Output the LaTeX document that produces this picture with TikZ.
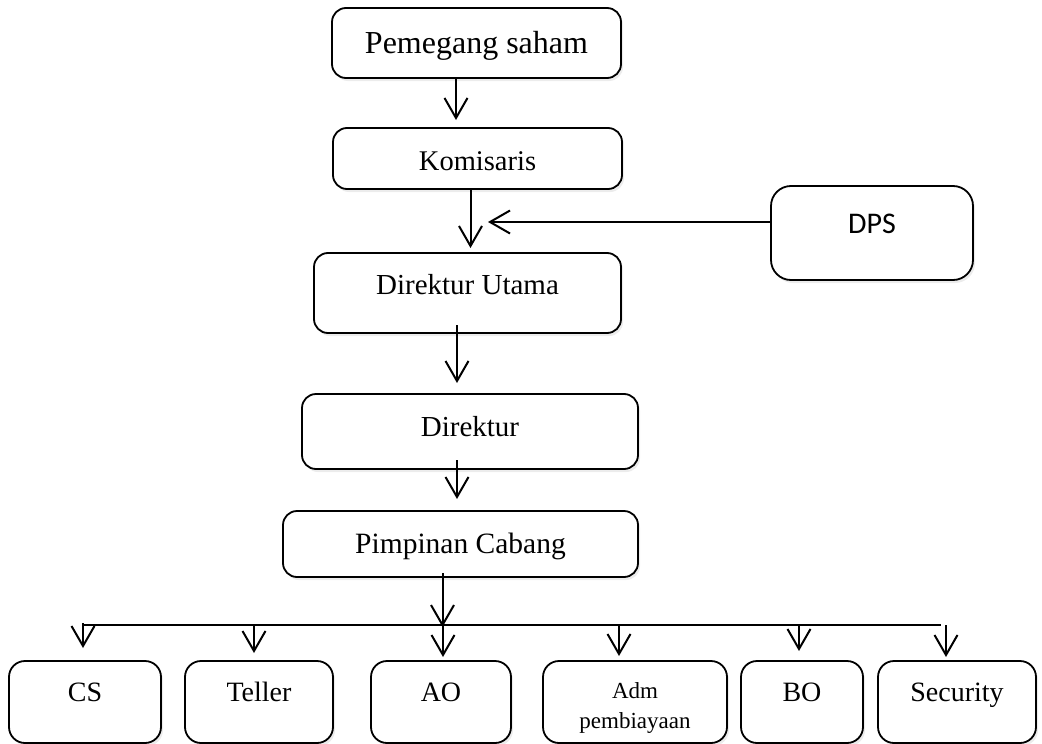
\documentclass[tikz,border=0pt]{standalone}
\usepackage{fontspec}
\setmainfont{Liberation Serif}
\newfontfamily\dpsfont{Carlito}
\usetikzlibrary{arrows.meta,shadows}

\tikzset{
  box/.style={draw, line width=1.8pt, rounded corners=14pt, fill=white,
    inner sep=0pt, outer sep=0pt, align=center,
    drop shadow={shadow xshift=2pt, shadow yshift=-3pt, opacity=0.15}},
  unit/.style={box, rounded corners=16pt, minimum height=82pt,
    font=\fontsize{28}{28}\selectfont, text height=18.3pt, text depth=20pt},
  arr/.style={line width=2pt, -{Straight Barb[length=20pt,width=23pt,line width=2pt]}},
  fs/.style={font=\fontsize{#1}{#1}\selectfont},
}

\begin{document}
\begin{tikzpicture}[x=1pt,y=-1pt]
  \useasboundingbox (0,0) rectangle (1042,744);

  % management chain
  \node[box, fs=32, minimum width=289pt, minimum height=70pt,
        text height=21pt, text depth=1pt] (pem) at (476.5,43) {Pemegang saham};
  \node[box, fs=28.5, minimum width=289pt, minimum height=61pt,
        text height=24.5pt, text depth=0pt] (kom) at (477.5,158.5) {Komisaris};
  \node[box, rounded corners=20pt, minimum width=202pt, minimum height=94pt,
        font=\dpsfont\fontsize{30}{30}\selectfont,
        text height=19pt, text depth=18pt] (dps) at (872,233) {DPS};
  \node[box, fs=29, minimum width=307pt, minimum height=80pt,
        text height=19pt, text depth=17pt] (dirut) at (467.5,293) {Direktur Utama};
  \node[box, fs=29, minimum width=336pt, minimum height=75pt,
        text height=19pt, text depth=9pt] (dir) at (470,431.5) {Direktur};
  \node[box, fs=29.5, minimum width=355pt, minimum height=66pt,
        text height=19.3pt, text depth=0pt] (pim) at (460.5,544) {Pimpinan Cabang};

  % branch units
  \node[unit, minimum width=152pt] (cs)  at (85,702)  {CS};
  \node[unit, minimum width=148pt] (tel) at (259,702) {Teller};
  \node[unit, minimum width=140pt] (ao)  at (441,702) {AO};
  \node[unit, minimum width=184pt, font=\fontsize{23}{30}\selectfont,
        text height=52pt, text depth=0pt] (adm) at (635,702) {Adm\\pembiayaan};
  \node[unit, minimum width=122pt] (bo)  at (802,702) {BO};
  \node[unit, minimum width=158pt] (sec) at (957,702) {Security};

  % vertical chain arrows
  \draw[arr, shorten >=8pt] ([xshift=-20.5pt]pem.south) -- ([xshift=-20.5pt]pem.south |- kom.north);
  \draw[arr, shorten >=5pt] ([xshift=-7pt]kom.south) -- ([xshift=-7pt]kom.south |- dirut.north);
  \coordinate (dpsin) at (488,222);
  \draw[arr] (dps.west |- dpsin) -- (dpsin);
  \draw[arr, shorten <=-8pt, shorten >=11pt] ([xshift=-10.5pt]dirut.south) -- ([xshift=-10.5pt]dirut.south |- dir.north);
  \draw[arr, shorten <=-9pt, shorten >=12pt] ([xshift=-13pt]dir.south) -- ([xshift=-13pt]dir.south |- pim.north);

  % distribution bus
  \coordinate (busL) at (82,625);
  \coordinate (busR) at (941,625);
  \draw[arr, shorten <=-4pt, shorten >=-2pt] ([xshift=-18pt]pim.south) -- ([xshift=-18pt]pim.south |- busL);
  \draw[line width=2pt] (busL) -- (busR);

  \coordinate (bcs)  at (83,625);
  \coordinate (btel) at (254,625);
  \coordinate (bao)  at (443,625);
  \coordinate (badm) at (619,625);
  \coordinate (bbo)  at (799,625);
  \coordinate (bsec) at (946,625);
  \draw[arr, shorten <=-2pt, shorten >=13pt] (bcs) -- (bcs |- cs.north);
  \draw[arr, shorten >=8pt]  (btel) -- (btel |- tel.north);
  \draw[arr, shorten >=4pt]  (bao)  -- (bao |- ao.north);
  \draw[arr, shorten >=5pt]  (badm) -- (badm |- adm.north);
  \draw[arr, shorten >=10pt] (bbo)  -- (bbo |- bo.north);
  \draw[arr, shorten >=4pt]  (bsec) -- (bsec |- sec.north);
\end{tikzpicture}
\end{document}
